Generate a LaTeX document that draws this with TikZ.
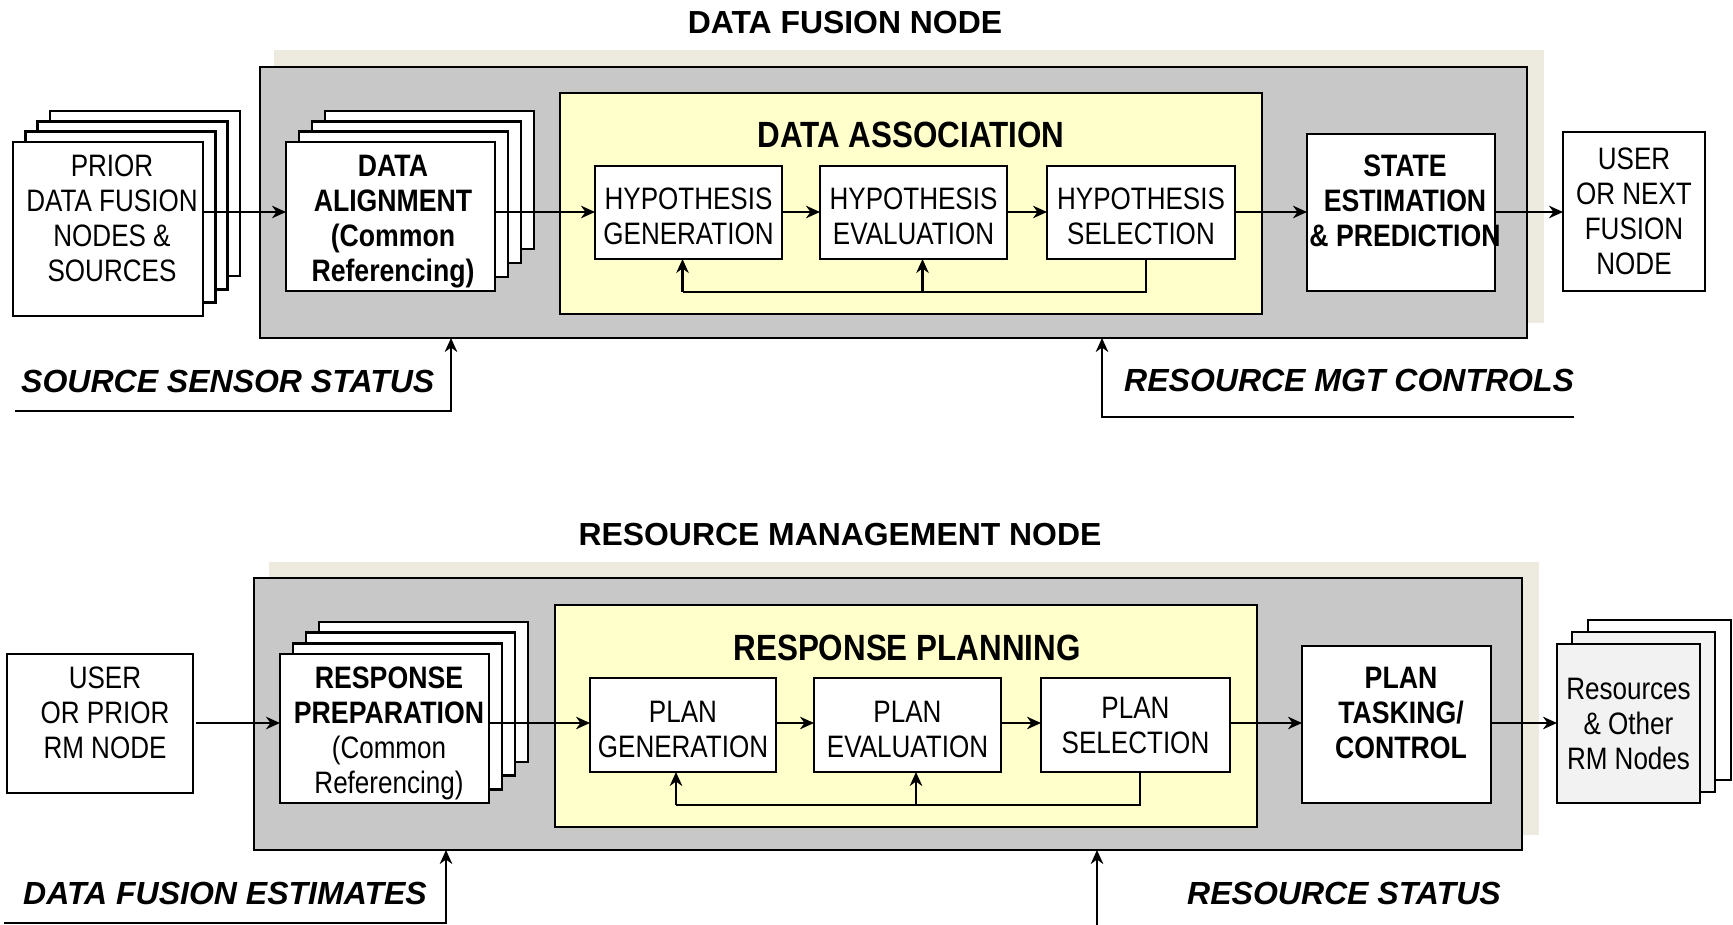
\documentclass[tikz,border=0pt]{standalone}
\usepackage{fontspec}
\setmainfont{Liberation Sans}
\newfontfamily\narrowsf{Liberation Sans}[FakeStretch=0.84]
\newfontfamily\narrowbf{Liberation Sans}[FakeStretch=0.86]
\usetikzlibrary{arrows.meta}
\definecolor{shadowbeige}{HTML}{EDEBE0}
\definecolor{panelgray}{HTML}{C8C8C8}
\definecolor{paleyellow}{HTML}{FFFFCC}
\definecolor{palegray}{HTML}{F2F2F2}

\begin{document}
\begin{tikzpicture}[x=1pt,y=-1pt,
  frame/.style={draw, line width=2.6pt, inner sep=0pt, outer sep=0pt, anchor=north west},
  whitebox/.style={frame, fill=white},
  layer/.style={draw, line width=2.6pt, fill=white},
  txt/.style={align=center, inner sep=0pt, text depth=0pt,
    font=\narrowsf\fontsize{31}{35}\selectfont},
  btxt/.style={txt, font=\narrowbf\bfseries\fontsize{31}{35}\selectfont},
  inner title/.style={inner sep=0pt, font=\narrowbf\bfseries\fontsize{36.5}{40}\selectfont},
  node title/.style={inner sep=0pt, font=\bfseries\fontsize{31.9}{36}\selectfont},
  status/.style={inner sep=0pt, anchor=west, font=\bfseries\itshape\fontsize{32}{36}\selectfont},
  arr/.style={line width=2.3pt, -{Stealth[length=14pt,width=12.5pt,inset=4.5pt]}},
  fbline/.style={line width=2.2pt},
]
\useasboundingbox (0,0) rectangle (1733,925);

% ================= DATA FUSION NODE =================
\node[node title] (dfTitle) at (845,22.5) {DATA FUSION NODE};

\node[frame, draw=none, fill=shadowbeige, minimum width=1270pt, minimum height=273pt] (dfShadow) at (274,50) {};
\node[frame, fill=panelgray, minimum width=1267pt, minimum height=271pt] (dfPanel) at (260,67) {};

% stacked source boxes
\foreach \k in {3,2,1}
  \draw[layer] ({13+12.3*\k},{142-10.3*\k}) rectangle ++(190,{174-3*\k});
\node[whitebox, minimum width=190pt, minimum height=174pt] (prior) at (13,142) {};
\node[txt] (priorT) at (112,218.5) {PRIOR\\DATA FUSION\\NODES \&\\SOURCES};

% stacked alignment boxes
\foreach \k in {3,2,1}
  \draw[layer] ({286+13*\k},{142-10.3*\k}) rectangle ++(209,{149-3.7*\k});
\node[whitebox, minimum width=209pt, minimum height=149pt] (align) at (286,142) {};
\node[btxt] (alignT) at (393,218.5) {DATA\\ALIGNMENT\\(Common\\Referencing)};

% data association
\node[frame, fill=paleyellow, minimum width=702pt, minimum height=221pt] (assoc) at (560,93) {};
\node[inner title] (assocT) at (911,135) {DATA ASSOCIATION};

\node[whitebox, minimum width=187pt, minimum height=93pt] (hg) at (595,166) {};
\node[txt] (hgT) at ([yshift=-3.5pt]hg.center) {HYPOTHESIS\\GENERATION};
\node[whitebox, minimum width=187pt, minimum height=93pt] (he) at (820,166) {};
\node[txt] (heT) at ([yshift=-3.5pt]he.center) {HYPOTHESIS\\EVALUATION};
\node[whitebox, minimum width=188pt, minimum height=93pt] (hs) at (1047,166) {};
\node[txt] (hsT) at ([yshift=-3.5pt]hs.center) {HYPOTHESIS\\SELECTION};

\node[whitebox, minimum width=188pt, minimum height=157pt] (se) at (1307,134) {};
\node[btxt] (seT) at (1405,201) {STATE\\ESTIMATION\\\& PREDICTION};

\node[whitebox, minimum width=142pt, minimum height=159pt] (userA) at (1563,132) {};
\node[txt] (userAT) at (userA.center) {USER\\OR NEXT\\FUSION\\NODE};

% main flow
\coordinate (rowA) at (0,212);
\draw[arr] (prior.east |- rowA) -- (align.west |- rowA);
\draw[arr] (align.east |- rowA) -- (hg.west |- rowA);
\draw[arr] (hg.east |- rowA) -- (he.west |- rowA);
\draw[arr] (he.east |- rowA) -- (hs.west |- rowA);
\draw[arr] (hs.east |- rowA) -- (se.west |- rowA);
\draw[arr] (se.east |- rowA) -- (userA.west |- rowA);

% hypothesis feedback
\coordinate (fbA) at (0,292);
\coordinate (hgFb) at ([xshift=-6pt]hg.south);
\coordinate (heFb) at ([xshift=9pt]he.south);
\coordinate (hsFb) at ([xshift=5pt]hs.south);
\draw[fbline] (hsFb) |- (hgFb |- fbA);
\draw[arr] (hgFb |- fbA) -- (hgFb);
\draw[arr] (heFb |- fbA) -- (heFb);

% external inputs
\node[status] (sssT) at (21,381) {SOURCE SENSOR STATUS};
\node[status] (rmcT) at (1124,380) {RESOURCE MGT CONTROLS};
\coordinate (sssStart) at (15,411);
\coordinate (sssUp) at (451,0);
\draw[arr] (sssStart) -| (sssUp |- dfPanel.south);
\coordinate (rmcStart) at (1574,417);
\coordinate (rmcUp) at (1102,0);
\draw[arr] (rmcStart) -| (rmcUp |- dfPanel.south);

% ================= RESOURCE MANAGEMENT NODE =================
\node[node title] (rmTitle) at (840,535) {RESOURCE MANAGEMENT NODE};

\node[frame, draw=none, fill=shadowbeige, minimum width=1270pt, minimum height=273pt] (rmShadow) at (269,562) {};
\node[frame, fill=panelgray, minimum width=1268pt, minimum height=272pt] (rmPanel) at (254,578) {};

\node[whitebox, minimum width=186pt, minimum height=139pt] (userB) at (7,654) {};
\node[txt] (userBT) at (105,712.5) {USER\\OR PRIOR\\RM NODE};

% stacked preparation boxes
\foreach \k in {3,2,1}
  \draw[layer] ({280+13*\k},{654-10.7*\k}) rectangle ++(209,{149-3*\k});
\node[whitebox, minimum width=209pt, minimum height=149pt] (prep) at (280,654) {};
\node[txt] (prepT) at (389,730) {{\narrowbf\bfseries RESPONSE}\\{\narrowbf\bfseries PREPARATION}\\(Common\\Referencing)};

% response planning
\node[frame, fill=paleyellow, minimum width=702pt, minimum height=222pt] (plan) at (555,605) {};
\node[inner title] (planT) at (907,648) {RESPONSE PLANNING};

\node[whitebox, minimum width=186pt, minimum height=94pt] (pg) at (590,678) {};
\node[txt] (pgT) at ([yshift=-4.5pt]pg.center) {PLAN\\GENERATION};
\node[whitebox, minimum width=187pt, minimum height=94pt] (pe) at (814,678) {};
\node[txt] (peT) at ([yshift=-4.5pt]pe.center) {PLAN\\EVALUATION};
\node[whitebox, minimum width=189pt, minimum height=94pt] (ps) at (1041,678) {};
\node[txt] (psT) at (ps.center) {PLAN\\SELECTION};

\node[whitebox, minimum width=189pt, minimum height=157pt] (pt) at (1302,646) {};
\node[btxt] (ptT) at (1401,713) {PLAN\\TASKING/\\CONTROL};

% stacked resource boxes
\draw[layer] (1588,620) rectangle ++(143,160);
\draw[layer, fill=palegray] (1572,632) rectangle ++(143,160);
\node[frame, fill=palegray, minimum width=143pt, minimum height=159pt] (res) at (1557,644) {};
\node[txt] (resT) at (res.center) {Resources\\\& Other\\RM Nodes};

% main flow
\coordinate (rowB) at (0,723);
\draw[arr] ([xshift=3pt]userB.east |- rowB) -- (prep.west |- rowB);
\draw[arr] (prep.east |- rowB) -- (pg.west |- rowB);
\draw[arr] (pg.east |- rowB) -- (pe.west |- rowB);
\draw[arr] (pe.east |- rowB) -- (ps.west |- rowB);
\draw[arr] (ps.east |- rowB) -- (pt.west |- rowB);
\draw[arr] (pt.east |- rowB) -- (res.west |- rowB);

% plan feedback
\coordinate (fbB) at (0,805);
\coordinate (pgFb) at ([xshift=-7pt]pg.south);
\coordinate (peFb) at ([xshift=8.5pt]pe.south);
\coordinate (psFb) at ([xshift=4.5pt]ps.south);
\draw[fbline] (psFb) |- (pgFb |- fbB);
\draw[arr] (pgFb |- fbB) -- (pgFb);
\draw[arr] (peFb |- fbB) -- (peFb);

% external inputs
\node[status] (dfeT) at (23,893) {DATA FUSION ESTIMATES};
\node[status] (rsT) at (1187,893) {RESOURCE STATUS};
\coordinate (dfeStart) at (4,923);
\coordinate (dfeUp) at (446,0);
\draw[arr] (dfeStart) -| (dfeUp |- rmPanel.south);
\coordinate (rsStart) at (1097,925);
\draw[arr] (rsStart) -- (rsStart |- rmPanel.south);
\end{tikzpicture}
\end{document}
